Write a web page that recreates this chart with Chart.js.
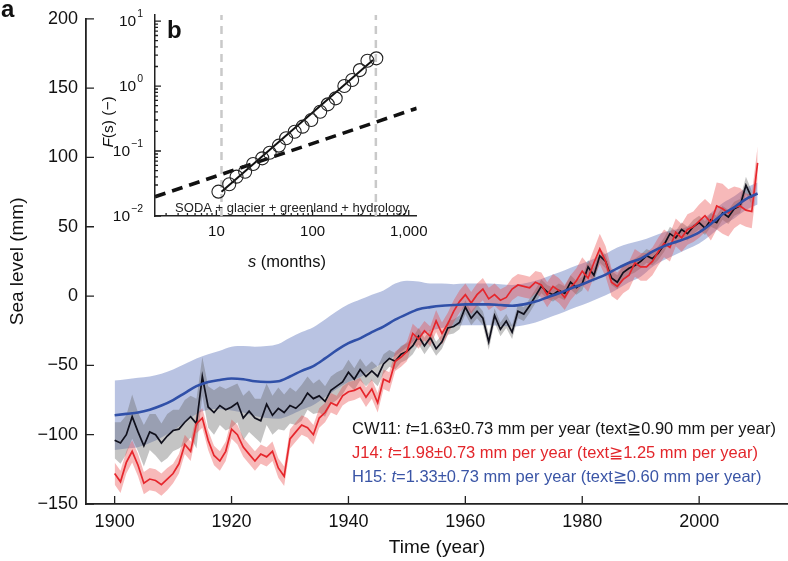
<!DOCTYPE html>
<html>
<head>
<meta charset="utf-8">
<script src="https://cdn.jsdelivr.net/npm/chart.js@4.4.1/dist/chart.umd.min.js"></script>
<style>
  html, body { margin: 0; padding: 0; background: #fff; }
  #wrap { position: relative; width: 788px; height: 561px; }
  #mainChart { position: absolute; left: 0; top: 0; }
  #insetChart { position: absolute; left: 95px; top: 0; }
</style>
</head>
<body>
<div id="wrap">
  <canvas id="mainChart" width="788" height="561"></canvas>
  <canvas id="insetChart" width="340" height="280"></canvas>
</div>
<script>
const FONT = '"Liberation Sans", Arial, Helvetica, sans-serif';

// ---- panel a: sea level (mm), yearly values ----
const yearStart = 1900;
const cw11 = [
  -104, -106, -100, -87, -98, -108, -98, -100, -106, -101,
  -97, -96, -91, -87, -92, -58, -80, -84, -79, -82,
  -80, -77, -88, -83, -88, -90, -78, -86, -81, -84,
  -79, -81, -77, -70, -74, -72, -76, -68, -65, -62,
  -55, -60, -53, -58, -54, -58, -49, -45, -47, -42,
  -40, -36, -29, -36, -30, -38, -33, -23, -22, -19,
  -8, -16, -11, -16, -33, -14, -24, -18, -26, -11,
  -13, -7, 0, 7, 3, 1, 4, 2, 10, 6,
  9, 21, 15, 29, 25, 13, 10, 17, 20, 22,
  25, 29, 27, 31, 37, 45, 42, 48, 45, 50,
  53, 49, 55, 53, 60, 57, 63, 65, 80, 71
];
const cw11Err = [
  13, 15, 14, 16, 14, 15, 13, 15, 14, 16,
  15, 14, 16, 15, 18, 14, 15, 16, 14, 15,
  15, 14, 16, 15, 14, 16, 15, 14, 15, 13,
  13, 12, 13, 12, 11, 12, 11, 10, 10, 9,
  9, 8, 8, 7, 7, 7, 7, 6, 6, 6,
  6, 6, 6, 6, 6, 5, 5, 5, 5, 5,
  5, 5, 5, 5, 6, 5, 5, 5, 5, 5,
  5, 5, 5, 5, 5, 5, 5, 5, 5, 5,
  5, 5, 5, 5, 5, 5, 5, 5, 5, 5,
  5, 5, 5, 5, 5, 5, 5, 5, 5, 5,
  5, 5, 5, 5, 5, 5, 5, 5, 6, 5
];
const j14 = [
  -128, -134, -120, -112, -122, -135, -132, -133, -136, -132,
  -128, -121, -107, -112, -92, -88, -104, -115, -119, -112,
  -96, -100, -109, -114, -119, -114, -116, -112, -124, -130,
  -103, -98, -93, -95, -100, -88, -84, -77, -79, -72,
  -69, -68, -66, -73, -67, -77, -60, -62, -47, -44,
  -40, -27, -31, -25, -29, -18, -27, -20, -11, -4,
  1, -5, 1, 5, -2, 1, -3, -1, 5, 8,
  7, 6, 10, 8, 1, 7, 4, -1, 6, 11,
  18, 13, 24, 34, 25, 10, 7, 12, 15, 24,
  21, 21, 25, 32, 38, 35, 46, 42, 48, 50,
  54, 58, 53, 65, 63, 60, 64, 65, 62, 61, 96
];
const j14Err = [
  8, 8, 8, 8, 8, 8, 8, 8, 8, 8,
  7, 7, 7, 7, 7, 7, 7, 7, 7, 7,
  7, 7, 7, 7, 7, 7, 7, 7, 7, 7,
  7, 7, 7, 7, 7, 7, 7, 7, 7, 7,
  7, 7, 7, 7, 7, 7, 7, 7, 7, 7,
  7, 7, 7, 7, 7, 8, 8, 8, 8, 8,
  8, 8, 8, 8, 8, 8, 8, 8, 8, 8,
  8, 8, 8, 9, 9, 9, 9, 9, 9, 9,
  10, 10, 10, 11, 11, 10, 10, 10, 10, 10,
  10, 10, 10, 10, 10, 10, 10, 10, 11, 11,
  12, 12, 13, 17, 18, 17, 15, 13, 12, 12, 12
];
// H15 is smooth: one value every second year
const h15Step = 2;
const h15 = [
  -86, -85, -84, -82, -79, -75, -70, -65, -62, -60.5,
  -59.5, -60, -61.5, -62, -61.5, -58, -54, -50.5, -45, -39,
  -34, -30.5, -26, -22, -17, -13, -9.5, -8, -7, -6.5,
  -6, -6, -6, -6.5, -7, -6, -4, -1, 2, 5.5,
  8.5, 12, 15.5, 20, 24, 27, 32, 36, 39, 42,
  46, 52, 59, 64, 70, 74
];
const h15Err = [
  25, 25, 25, 24, 23, 22, 21, 20, 20, 21,
  23, 24, 25, 26, 27, 28, 28, 28, 28, 28,
  28, 28, 27, 26, 26, 24, 20, 17, 16, 15,
  15, 15, 15, 15, 15, 15, 15, 15, 15, 15,
  15, 15, 15, 15, 14, 13, 11, 10, 9, 8,
  8, 8, 8, 8, 8, 8
];
const xTicks = [1900, 1920, 1940, 1960, 1980, 2000];
const rateLines = [
  { name: 'CW11', rate: '1.63±0.73', low: '0.90', color: '#161616' },
  { name: 'J14', rate: '1.98±0.73', low: '1.25', color: '#e3262b' },
  { name: 'H15', rate: '1.33±0.73', low: '0.60', color: '#3a55a6' }
];

// ---- panel b: fluctuation function ----
const dfaS = [10.5, 13.6, 16.2, 19.9, 24.1, 30.0, 35.8, 44.6, 53.1, 65.2, 78.8, 97, 120, 144, 174, 214, 258, 310, 372, 460];
const dfaF = [0.0237, 0.0308, 0.0403, 0.0481, 0.0631, 0.0772, 0.0942, 0.121, 0.157, 0.198, 0.237, 0.300, 0.403, 0.523, 0.647, 1.0, 1.24, 1.76, 2.45, 2.67];
const fitS = [11.3, 425];
const fitF = [0.0237, 2.51];
const refS = [2.3, 1210];
const refF = [0.0198, 0.454];
const cutS = [11.3, 455];
const insetXTicks = [3, 4, 5, 6, 7, 8, 9, 10, 20, 30, 40, 50, 60, 70, 80, 90, 100, 200, 300, 400, 500, 600, 700, 800, 900, 1000];
const insetXMajor = [10, 100, 1000];
const insetXLabels = ['10', '100', '1,000'];
const insetYTicks = [0.01, 0.02, 0.03, 0.04, 0.05, 0.06, 0.07, 0.08, 0.09, 0.1, 0.2, 0.3, 0.4, 0.5, 0.6, 0.7, 0.8, 0.9, 1, 2, 3, 4, 5, 6, 7, 8, 9, 10];
const insetYMajor = [0.01, 0.1, 1, 10];
const insetYExp = ['\u22122', '\u22121', '0', '1'];

function series(vals, step, err, sign) {
  return vals.map((v, i) => ({ x: yearStart + i * step, y: err ? v + sign * err[i] : v }));
}

function drawRich(ctx, parts, x, y, size, color, align) {
  const fonts = parts.map(p => (p[1] ? 'italic ' : '') + size + 'px ' + FONT);
  let total = 0;
  const widths = parts.map((p, i) => {
    ctx.font = fonts[i];
    const w = ctx.measureText(p[0]).width;
    total += w;
    return w;
  });
  let cx = align === 'center' ? x - total / 2 : (align === 'right' ? x - total : x);
  ctx.fillStyle = color;
  ctx.textAlign = 'left';
  ctx.textBaseline = 'middle';
  parts.forEach((p, i) => {
    ctx.font = fonts[i];
    ctx.fillText(p[0], cx, y);
    cx += widths[i];
  });
}

// tick marks pointing into the plot
function inwardTicks(len, minorLen) {
  return {
    id: 'inwardTicks',
    afterDraw(chart) {
      const { ctx, chartArea: a } = chart;
      ctx.save();
      ctx.strokeStyle = '#222';
      ctx.lineWidth = 1.3;
      ctx.beginPath();
      Object.values(chart.scales).forEach(sc => {
        sc.ticks.forEach(t => {
          const l = t.major === false ? minorLen : len;
          const p = sc.getPixelForValue(t.value);
          if (sc.isHorizontal()) {
            if (p < a.left || p > a.right) return;
            ctx.moveTo(p, a.bottom);
            ctx.lineTo(p, a.bottom - l);
          } else {
            if (p < a.top - 0.5 || p > a.bottom) return;
            ctx.moveTo(a.left, p);
            ctx.lineTo(a.left + l, p);
          }
        });
      });
      ctx.stroke();
      ctx.restore();
    }
  };
}

const mainText = {
  id: 'mainText',
  afterDraw(chart) {
    const ctx = chart.ctx;
    ctx.save();
    ctx.fillStyle = '#111';
    ctx.font = 'bold 24px ' + FONT;
    ctx.textBaseline = 'middle';
    ctx.fillText('a', 1, 10);
    rateLines.forEach((ln, i) => {
      drawRich(ctx, [[ln.name + ': ', false], ['t', true],
        ['=' + ln.rate + ' mm per year (text\u2267' + ln.low + ' mm per year)', false]],
        352, 429 + i * 24, 16.5, ln.color, 'left');
    });
    ctx.restore();
  }
};

const insetText = {
  id: 'insetText',
  afterDraw(chart) {
    const ctx = chart.ctx;
    const ys = chart.scales.y;
    ctx.save();
    ctx.fillStyle = '#111';
    ctx.font = 'bold 24px ' + FONT;
    ctx.textBaseline = 'middle';
    ctx.fillText('b', 72, 31);
    // power-of-ten labels on the F(s) axis
    insetYMajor.forEach((v, k) => {
      const py = ys.getPixelForValue(v);
      ctx.font = '10.5px ' + FONT;
      const we = ctx.measureText(insetYExp[k]).width;
      ctx.textAlign = 'right';
      ctx.fillText(insetYExp[k], 48, py - 7);
      ctx.font = '15.5px ' + FONT;
      ctx.fillText('10', 48 - we - 1, py + 1);
    });
    ctx.font = '13px ' + FONT;
    ctx.textAlign = 'center';
    ctx.fillStyle = '#222';
    ctx.fillText('SODA + glacier + greenland + hydrology', 197, 208);
    drawRich(ctx, [['s', true], [' (months)', false]], 192, 262, 16.5, '#111', 'center');
    ctx.translate(14, 122);
    ctx.rotate(-Math.PI / 2);
    drawRich(ctx, [['F', true], ['(s) (\u2212)', false]], 0, 0, 15.5, '#111', 'center');
    ctx.restore();
  }
};

const lineBase = { pointRadius: 0, borderWidth: 0, fill: false, tension: 0 };

new Chart(document.getElementById('mainChart').getContext('2d'), {
  type: 'line',
  data: {
    datasets: [
      { ...lineBase, label: 'H15', data: series(h15, h15Step), borderColor: '#3050a8', borderWidth: 2.6, cubicInterpolationMode: 'monotone' },
      { ...lineBase, label: 'J14', data: series(j14, 1), borderColor: '#e6262c', borderWidth: 1.7 },
      { ...lineBase, label: 'CW11', data: series(cw11, 1), borderColor: '#10101c', borderWidth: 1.7 },
      { ...lineBase, label: 'J14 hi', data: series(j14, 1, j14Err, 1), fill: '+1', backgroundColor: 'rgba(235,70,70,0.38)' },
      { ...lineBase, label: 'J14 lo', data: series(j14, 1, j14Err, -1) },
      { ...lineBase, label: 'CW11 hi', data: series(cw11, 1, cw11Err, 1), fill: '+1', backgroundColor: 'rgba(100,100,100,0.38)' },
      { ...lineBase, label: 'CW11 lo', data: series(cw11, 1, cw11Err, -1) },
      { ...lineBase, label: 'H15 hi', data: series(h15, h15Step, h15Err, 1), fill: '+1', backgroundColor: 'rgba(120,140,200,0.52)', cubicInterpolationMode: 'monotone' },
      { ...lineBase, label: 'H15 lo', data: series(h15, h15Step, h15Err, -1), cubicInterpolationMode: 'monotone' }
    ]
  },
  options: {
    responsive: false,
    animation: false,
    layout: { padding: { top: 10, right: 0, bottom: 0, left: 0 } },
    plugins: { legend: { display: false }, tooltip: { enabled: false } },
    scales: {
      x: {
        type: 'linear',
        min: 1895.1,
        max: 2015.2,
        afterBuildTicks: s => { s.ticks = xTicks.map(v => ({ value: v })); },
        afterFit: s => { s.height = 57; },
        grid: { display: false, drawTicks: false },
        border: { display: true, color: '#222', width: 1.8 },
        ticks: { color: '#111', font: { size: 18, family: FONT }, padding: 7, maxRotation: 0, autoSkip: false, callback: v => String(v) },
        title: { display: true, text: 'Time (year)', color: '#111', font: { size: 19, family: FONT }, padding: { top: 0, bottom: 2 } }
      },
      y: {
        min: -150,
        max: 200,
        afterFit: s => { s.width = 86; },
        grid: { display: false, drawTicks: false },
        border: { display: true, color: '#222', width: 1.8 },
        ticks: { stepSize: 50, color: '#111', font: { size: 18, family: FONT }, padding: 8, callback: v => String(v).replace('-', '\u2212') },
        title: { display: true, text: 'Sea level (mm)', color: '#111', font: { size: 19, family: FONT }, padding: { top: 6, bottom: 0 } }
      }
    }
  },
  plugins: [inwardTicks(8, 8), mainText]
});

const pts = (xs, ys) => xs.map((x, i) => ({ x: x, y: ys[i] }));

new Chart(document.getElementById('insetChart').getContext('2d'), {
  type: 'scatter',
  data: {
    datasets: [
      { label: 'F(s)', data: pts(dfaS, dfaF), pointRadius: 6.5, pointBorderWidth: 1.1, pointBorderColor: '#222', pointBackgroundColor: 'rgba(0,0,0,0)', showLine: false },
      { label: 'fit', data: pts(fitS, fitF), showLine: true, pointRadius: 0, borderColor: '#111', borderWidth: 2 },
      { label: 'H=0.5', data: pts(refS, refF), showLine: true, pointRadius: 0, borderColor: '#111', borderWidth: 3.6, borderDash: [11, 7] },
      { label: 'cut1', data: pts([cutS[0], cutS[0]], [0.01, 12.4]), showLine: true, pointRadius: 0, borderColor: '#c9c9c9', borderWidth: 2.5, borderDash: [8, 6] },
      { label: 'cut2', data: pts([cutS[1], cutS[1]], [0.01, 12.4]), showLine: true, pointRadius: 0, borderColor: '#c9c9c9', borderWidth: 2.5, borderDash: [8, 6] }
    ]
  },
  options: {
    responsive: false,
    animation: false,
    layout: { padding: { top: 15, right: 16, bottom: 0, left: 0 } },
    plugins: { legend: { display: false }, tooltip: { enabled: false } },
    scales: {
      x: {
        type: 'logarithmic',
        min: 2.3,
        max: 1210,
        afterBuildTicks: s => { s.ticks = insetXTicks.map(v => ({ value: v, major: insetXMajor.includes(v) })); },
        afterFit: s => { s.height = 64; },
        grid: { display: false, drawTicks: false },
        border: { display: true, color: '#222', width: 1.5 },
        ticks: {
          color: '#111', font: { size: 15, family: FONT }, padding: 7, maxRotation: 0, autoSkip: false,
          callback: v => { const k = insetXMajor.indexOf(v); return k >= 0 ? insetXLabels[k] : ''; }
        }
      },
      y: {
        type: 'logarithmic',
        min: 0.01,
        max: 12.4,
        afterBuildTicks: s => { s.ticks = insetYTicks.map(v => ({ value: v, major: insetYMajor.includes(v) })); },
        afterFit: s => { s.width = 60; },
        grid: { display: false, drawTicks: false },
        border: { display: true, color: '#222', width: 1.5 },
        ticks: { display: false }
      }
    }
  },
  plugins: [inwardTicks(6, 3), insetText]
});
</script>
</body>
</html>
